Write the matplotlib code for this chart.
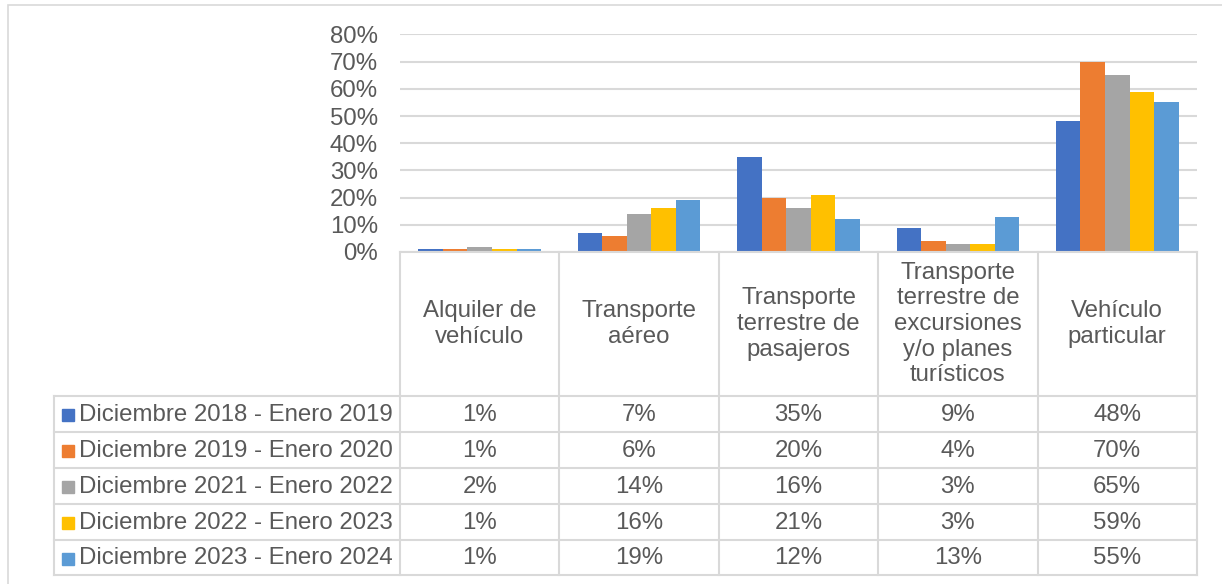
"""
Bar chart with an Excel-style data table underneath.
"""

import matplotlib.pyplot as plt
import numpy as np
from matplotlib.patches import Rectangle

# Data
categories = [
    "Alquiler de\nvehículo",
    "Transporte\naéreo",
    "Transporte\nterrestre de\npasajeros",
    "Transporte\nterrestre de\nexcursiones\ny/o planes\nturísticos",
    "Vehículo\nparticular",
]
series_names = [
    "Diciembre 2018 - Enero 2019",
    "Diciembre 2019 - Enero 2020",
    "Diciembre 2021 - Enero 2022",
    "Diciembre 2022 - Enero 2023",
    "Diciembre 2023 - Enero 2024",
]
dic18_ene19 = [0.01, 0.07, 0.35, 0.09, 0.48]
dic19_ene20 = [0.01, 0.06, 0.20, 0.04, 0.70]
dic21_ene22 = [0.02, 0.14, 0.16, 0.03, 0.65]
dic22_ene23 = [0.01, 0.16, 0.21, 0.03, 0.59]
dic23_ene24 = [0.01, 0.19, 0.12, 0.13, 0.55]
y_ticks = [0, 0.1, 0.2, 0.3, 0.4, 0.5, 0.6, 0.7, 0.8]

series = [dic18_ene19, dic19_ene20, dic21_ene22, dic22_ene23, dic23_ene24]
colors = ["#4472C4", "#ED7D31", "#A5A5A5", "#FFC000", "#5B9BD5"]
text_color = "#595959"
line_color = "#D9D9D9"
fs = 17.3

plt.rcParams["font.family"] = ["Liberation Sans", "DejaVu Sans"]

W, H = 1222, 584
fig = plt.figure(figsize=(W / 100, H / 100), dpi=100)


def fx(px):
    return px / W


def fy(py):
    return 1 - py / H


# Layout in pixels
plot_left, plot_right = 400, 1197
plot_top, plot_bottom = 34.5, 252
legend_left = 54
row_lines = [396, 432, 468, 504, 540, 575]
n_cat = len(categories)
col_w = (plot_right - plot_left) / n_cat

# Outer chart border
fig.patches.append(
    Rectangle((fx(8), fy(645)), fx(1300), 640 / H, transform=fig.transFigure,
              fill=False, edgecolor=line_color, linewidth=1.2)
)

# Bar plot
ax = fig.add_axes([fx(plot_left), fy(plot_bottom), fx(plot_right - plot_left),
                   (plot_bottom - plot_top) / H])
x = np.arange(n_cat)
bar_w = 0.154
for i, vals in enumerate(series):
    offset = (i - 2) * bar_w
    ax.bar(x + offset, vals, width=bar_w, color=colors[i], zorder=3)

ax.set_xlim(-0.5, n_cat - 0.5)
ax.set_ylim(0, 0.8)
ax.set_yticks(y_ticks)
ax.set_yticklabels([f"{int(round(t * 100))}%" for t in y_ticks])
ax.tick_params(axis="y", length=0, pad=16, labelsize=fs, labelcolor=text_color)
ax.set_xticks([])
ax.grid(True, axis="y", color=line_color, linewidth=1.5, zorder=0)
for s in ax.spines.values():
    s.set_visible(False)

# Data table lines
lw = 1.5
v_lines = [plot_left + k * col_w for k in range(n_cat + 1)]
for vx in v_lines:
    fig.add_artist(plt.Line2D([fx(vx), fx(vx)], [fy(plot_bottom), fy(row_lines[-1])],
                              color=line_color, linewidth=lw))
fig.add_artist(plt.Line2D([fx(plot_left), fx(plot_right)], [fy(plot_bottom), fy(plot_bottom)],
                          color=line_color, linewidth=lw))
for ry in row_lines:
    fig.add_artist(plt.Line2D([fx(legend_left), fx(plot_right)], [fy(ry), fy(ry)],
                              color=line_color, linewidth=lw))
fig.add_artist(plt.Line2D([fx(legend_left), fx(legend_left)], [fy(row_lines[0]), fy(row_lines[-1])],
                          color=line_color, linewidth=lw))

# Header cells
for k, cat in enumerate(categories):
    cx = plot_left + (k + 0.5) * col_w
    fig.text(fx(cx), fy((plot_bottom + row_lines[0]) / 2), cat, ha="center", va="center",
             fontsize=fs, color=text_color, linespacing=1.22)

# Data rows with legend keys
for i, vals in enumerate(series):
    cy = (row_lines[i] + row_lines[i + 1]) / 2 + 1
    fig.patches.append(
        Rectangle((fx(62), fy(cy + 6)), fx(12), 12 / H, transform=fig.transFigure,
                  color=colors[i])
    )
    fig.text(fx(79), fy(cy), series_names[i], ha="left", va="center",
             fontsize=fs, color=text_color)
    for k, v in enumerate(vals):
        cx = plot_left + (k + 0.5) * col_w
        fig.text(fx(cx), fy(cy), f"{int(round(v * 100))}%", ha="center", va="center",
                 fontsize=fs, color=text_color)

fig.savefig("out.png", dpi=100)
